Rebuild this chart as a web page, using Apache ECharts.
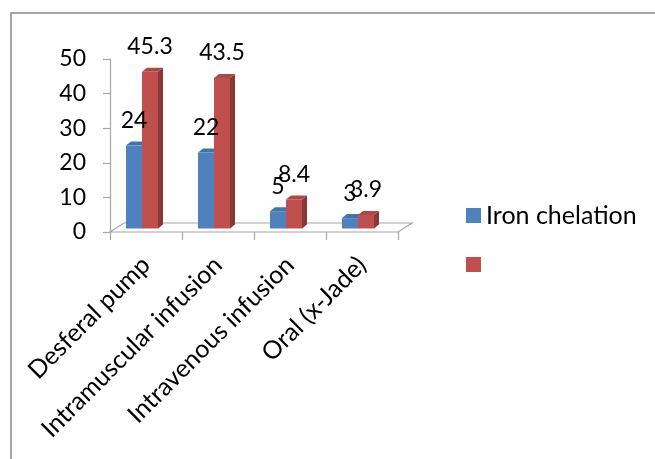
<!DOCTYPE html>
<html>
<head>
<meta charset="utf-8">
<style>
  html, body { margin: 0; padding: 0; background: #fff; }
  #chart { width: 655px; height: 459px; }
</style>
<script src="https://cdn.jsdelivr.net/npm/echarts@6/dist/echarts.min.js"></script>
</head>
<body>
<div id="chart"></div>
<script>
// Iron chelation methods and their two sets of percentages
const categories = ['Desferal pump', 'Intramuscular infusion', 'Intravenous infusion', 'Oral (x-Jade)'];
const ironChelation = [24, 22, 5, 3];
const secondSeries = [45.3, 43.5, 8.4, 3.9];
const seriesNames = ['Iron chelation', ' '];
const yTicks = { min: 0, max: 50, interval: 10 };

const FONT = 'Lato, "Open Sans", sans-serif';
const FS_NUM = 23;   // value labels and y ticks
const FS_TXT = 25;   // category names and legend

// plot box
const GRID = { left: 110, top: 59, width: 288, height: 173 };
// pseudo-3D floor depth and bar geometry (pixels)
const FLOOR_DX = 14, FLOOR_DY = 9;
const BAR_W = 16, BAR_DX = 5, BAR_DY = 4, LIFT = 3.5;
const BAR_SHIFT = [-20, -4];

const palette = [
  { front: '#4F81BD', top: '#4373AD', side: '#385D8A' },
  { front: '#C0504D', top: '#AC4845', side: '#8A3735' }
];

function makeRender(si) {
  const c = palette[si];
  const zb = si * 10;
  return function (params, api) {
    const cat = api.value(0), val = api.value(1);
    const b = api.coord([cat, 0]);
    const t = api.coord([cat, val]);
    const x0 = b[0] + BAR_SHIFT[si], x1 = x0 + BAR_W;
    const y0 = b[1] - LIFT, y1 = t[1] - LIFT;
    return {
      type: 'group',
      children: [
        { type: 'polygon', z2: zb, shape: { points: [[x1, y0], [x1 + BAR_DX, y0 - BAR_DY], [x1 + BAR_DX, y1 - BAR_DY], [x1, y1]] },
          style: { fill: c.side } },
        { type: 'polygon', z2: zb + 1, shape: { points: [[x0, y1], [x1, y1], [x1 + BAR_DX, y1 - BAR_DY], [x0 + BAR_DX, y1 - BAR_DY]] },
          style: { fill: c.top } },
        { type: 'rect', z2: zb + 2, shape: { x: x0, y: y1, width: BAR_W, height: y0 - y1 },
          style: { fill: c.front } },
        { type: 'text', z2: 100 + si, x: (x0 + x1) / 2, y: y1 - 25,
          style: { text: String(val), fill: '#000', font: FS_NUM + 'px ' + FONT, align: 'center', verticalAlign: 'middle' } }
      ]
    };
  };
}

const chart = echarts.init(document.getElementById('chart'));

const fx0 = GRID.left, fx1 = GRID.left + GRID.width, fy = GRID.top + GRID.height;

chart.setOption({
  animation: false,
  backgroundColor: '#fff',
  textStyle: { fontFamily: FONT },
  graphic: [
    // outer frame
    { type: 'rect', shape: { x: 11, y: 13, width: 700, height: 500 }, silent: true,
      style: { fill: 'none', stroke: '#8c8c8c', lineWidth: 1.5 }, z: 0 },
    // floor of the plot
    { type: 'polygon', silent: true, z: 1,
      shape: { points: [[fx0, fy], [fx1, fy], [fx1 + FLOOR_DX, fy - FLOOR_DY], [fx0 + FLOOR_DX, fy - FLOOR_DY]] },
      style: { fill: '#fff', stroke: '#a6a6a6', lineWidth: 1.2 } }
  ],
  grid: { left: GRID.left, top: GRID.top, width: GRID.width, height: GRID.height, containLabel: false },
  legend: {
    orient: 'vertical', left: 466, top: 203, padding: 0,
    itemWidth: 15, itemHeight: 15, itemGap: 24,
    icon: 'rect',
    textStyle: { fontSize: FS_TXT, fontFamily: FONT, color: '#000', lineHeight: 24 },
    data: seriesNames.map(n => ({ name: n }))
  },
  xAxis: {
    type: 'category', data: categories, boundaryGap: true,
    axisLine: { show: false },
    axisTick: { show: true, length: 8, lineStyle: { color: '#a6a6a6', width: 1.2 } },
    axisLabel: { rotate: 45, margin: 29, fontSize: FS_TXT, fontFamily: FONT, color: '#000', interval: 0 },
    z: 3
  },
  yAxis: {
    type: 'value', min: yTicks.min, max: yTicks.max, interval: yTicks.interval,
    splitLine: { show: false },
    axisLine: { show: true, lineStyle: { color: '#a6a6a6', width: 1.2 } },
    axisTick: { show: true, length: 7, lineStyle: { color: '#a6a6a6', width: 1.2 } },
    axisLabel: { margin: 24, fontSize: FS_NUM, fontFamily: FONT, color: '#000' }
  },
  series: [0, 1].map(si => ({
    type: 'custom',
    name: seriesNames[si],
    itemStyle: { color: palette[si].front },
    renderItem: makeRender(si),
    encode: { x: 0, y: 1 },
    data: (si === 0 ? ironChelation : secondSeries).map((v, i) => [i, v]),
    z: 5
  }))
});
</script>
</body>
</html>
